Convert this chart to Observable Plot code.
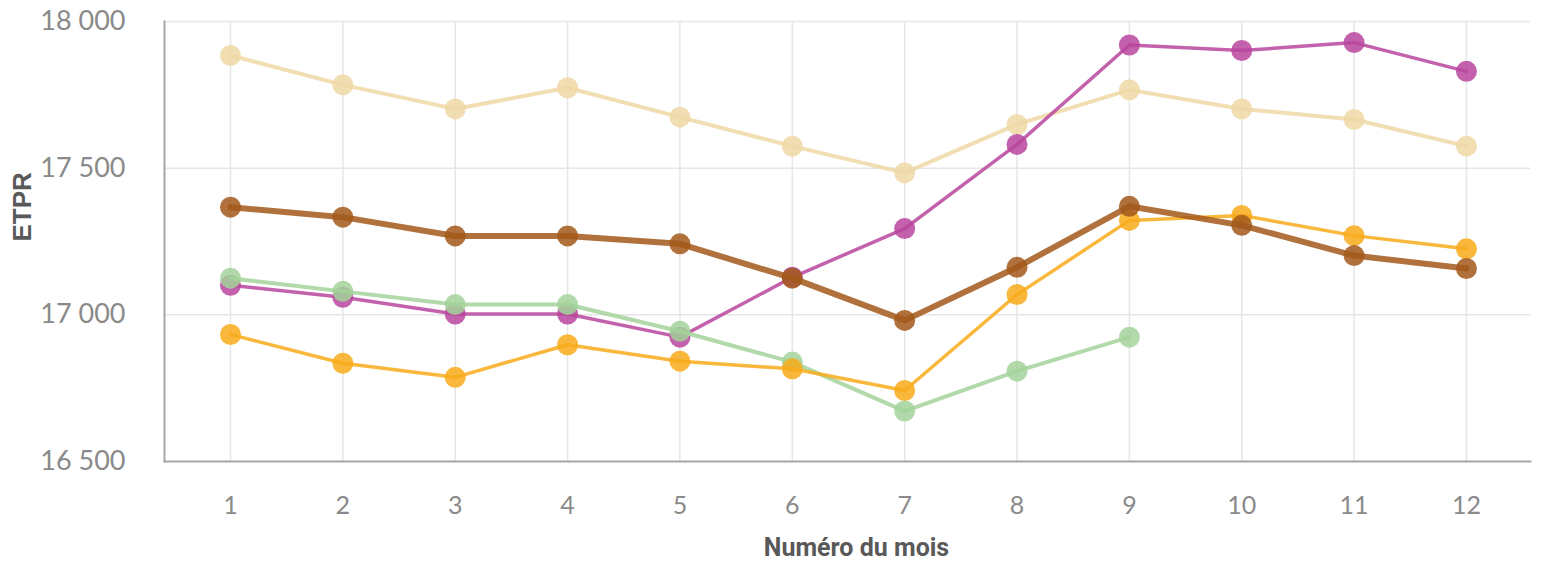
<!DOCTYPE html>
<html><head><meta charset="utf-8">
<script src="https://cdn.jsdelivr.net/npm/d3@7"></script>
<script src="https://cdn.jsdelivr.net/npm/@observablehq/plot@0.6"></script>
<style>
html,body{margin:0;padding:0;background:#fff;}
</style>
</head><body>
<div id="chart"></div>
<script>
const mois = [1,2,3,4,5,6,7,8,9,10,11,12];
const yTicks = [16500, 17000, 17500, 18000];
const serieBeige  = [17884,17784,17702,17774,17674,17575,17484,17649,17767,17702,17666,17575];
const serieViolet = [17101,17060,17003,17003,16924,17128,17294,17581,17920,17901,17928,17830];
const serieVert   = [17125,17080,17035,17035,16944,16839,16672,16808,16924,null,null,null];
const serieOrange = [16933,16835,16787,16898,16842,16816,16742,17069,17322,17339,17270,17225];
const serieBrun   = [17367,17333,17269,17269,17242,17125,16981,17162,17370,17305,17202,17158];

const series = [
  {name:"beige",  values:serieBeige,  color:"#efd8a6", width:4},
  {name:"violet", values:serieViolet, color:"#b8459d", width:3.5},
  {name:"vert",   values:serieVert,   color:"#a3d29a", width:4},
  {name:"orange", values:serieOrange, color:"#f8aa1a", width:3.5},
  {name:"brun",   values:serieBrun,   color:"#a2581a", width:6}
];

const fr = d3.formatLocale({decimal:",", thousands:"\u00a0", grouping:[3], currency:["","€"]});
const fmt = fr.format(",");

const marks = [
  Plot.ruleX(mois, {stroke:"#e6e6e6", strokeWidth:1.5}),
  Plot.ruleY(yTicks.slice(1), {stroke:"#e6e6e6", strokeWidth:1.5}),
  Plot.frame({anchor:"left", stroke:"#a6a6a6", strokeWidth:2}),
  Plot.frame({anchor:"bottom", stroke:"#a6a6a6", strokeWidth:2}),
  Plot.text(yTicks, {y:d=>d, frameAnchor:"left", dx:-39, textAnchor:"end", text:d=>fmt(d), fontSize:27, fill:"#8a8a8a"}),
  Plot.text(mois, {x:d=>d, frameAnchor:"bottom", dy:52, text:d=>String(d), fontSize:25, fill:"#8a8a8a"}),
  Plot.text(["ETPR"], {frameAnchor:"left", dx:-142, rotate:-90, fontWeight:"bold", fontSize:26, fill:"#595959", fontFamily:"Liberation Sans"}),
  Plot.text(["Numéro du mois"], {frameAnchor:"bottom", dy:94, dx:9, fontWeight:"bold", fontSize:25, fill:"#595959", fontFamily:"Roboto"})
];

for (const s of series) {
  const data = mois.map((m,i)=>({mois:m, v:s.values[i]})).filter(d=>d.v!=null);
  marks.push(Plot.line(data, {x:"mois", y:"v", stroke:s.color, strokeWidth:s.width, strokeOpacity:0.85}));
  marks.push(Plot.dot(data, {x:"mois", y:"v", fill:s.color, r:10.5, fillOpacity:0.85}));
}

const chart = Plot.plot({
  width:1543, height:569,
  marginLeft:164, marginRight:13, marginTop:21, marginBottom:108,
  style:{fontFamily:"Lato, sans-serif", background:"#fff"},
  x:{type:"linear", domain:[0.4126, 12.57], axis:null},
  y:{domain:[16500, 18000], axis:null},
  marks
});
document.getElementById("chart").appendChild(chart);
</script>
</body></html>
